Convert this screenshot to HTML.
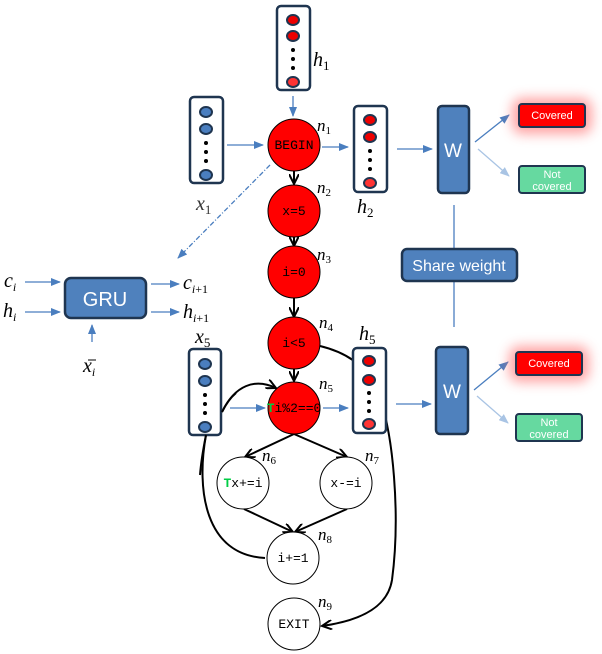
<!DOCTYPE html>
<html><head><meta charset="utf-8"><style>
html,body{margin:0;padding:0;background:#fff;}
svg{display:block}
.m{font-family:"Liberation Mono",monospace;font-size:13px;}
.i{font-family:"Liberation Serif",serif;font-style:italic;}
.s{font-family:"Liberation Sans",sans-serif;fill:#fff;}
</style></head><body>
<svg width="602" height="654" viewBox="0 0 602 654" xmlns="http://www.w3.org/2000/svg">
<defs>
<marker id="ab" markerWidth="10" markerHeight="8" refX="9" refY="4" orient="auto" markerUnits="userSpaceOnUse"><path d="M0,0 L10,4 L0,8 Z" fill="#4a7ebf"/></marker>
<marker id="al" markerWidth="10" markerHeight="8" refX="9" refY="4" orient="auto" markerUnits="userSpaceOnUse"><path d="M0,0 L10,4 L0,8 Z" fill="#a9c4e4"/></marker>
<marker id="ak" markerWidth="12" markerHeight="10" refX="10" refY="5" orient="auto" markerUnits="userSpaceOnUse"><path d="M0,0 L10,5 L0,10" fill="none" stroke="#000" stroke-width="2"/></marker>
<filter id="glow" x="-50%" y="-100%" width="200%" height="300%"><feGaussianBlur stdDeviation="6"/></filter>
</defs>

<!-- curves -->
<g fill="none" stroke="#000" stroke-width="2">
<path d="M320,346 C345,352 365,365 375,385 C395,430 400,520 392,580 C388,605 365,620 322,626" marker-end="url(#ak)"/>
<path d="M222,412 C235,385 255,378 276,388" marker-end="url(#ak)"/>
<path d="M206,435 C196,490 205,555 265,558"/>
<line x1="294" y1="171" x2="294" y2="184" marker-end="url(#ak)"/>
<line x1="294" y1="237" x2="294" y2="246" marker-end="url(#ak)"/>
<line x1="294" y1="298" x2="294" y2="317" marker-end="url(#ak)"/>
<line x1="294" y1="369" x2="294" y2="381" marker-end="url(#ak)"/>
<line x1="294" y1="434" x2="245" y2="457" marker-end="url(#ak)"/>
<line x1="294" y1="434" x2="347" y2="457" marker-end="url(#ak)"/>
<line x1="244" y1="509" x2="293" y2="532" marker-end="url(#ak)"/>
<line x1="347" y1="509" x2="295" y2="532" marker-end="url(#ak)"/>
</g>

<!-- vector boxes -->
<g stroke="#1f3550" stroke-width="2.5">
<rect x="277" y="6" width="33" height="84" rx="4" fill="#fff"/>
<rect x="190" y="97" width="33" height="86" rx="4" fill="#fff"/>
<rect x="354" y="106" width="33" height="86" rx="4" fill="#fff"/>
<rect x="189" y="349" width="32" height="86" rx="4" fill="#fff"/>
<rect x="353" y="348" width="33" height="85" rx="4" fill="#fff"/>
</g>
<g stroke="#1f3550" stroke-width="2">
<ellipse cx="293" cy="20" rx="6" ry="5" fill="#e00"/><ellipse cx="293" cy="36" rx="6" ry="5" fill="#e00"/><ellipse cx="293" cy="82" rx="6" ry="5" fill="#f33"/>
<ellipse cx="206" cy="112" rx="6" ry="5" fill="#4a7ebf"/><ellipse cx="206" cy="129" rx="6" ry="5" fill="#4a7ebf"/><ellipse cx="206" cy="175" rx="6" ry="5" fill="#4a7ebf"/>
<ellipse cx="370" cy="120" rx="6" ry="5" fill="#e00"/><ellipse cx="370" cy="137" rx="6" ry="5" fill="#e00"/><ellipse cx="370" cy="183" rx="6" ry="5" fill="#f33"/>
<ellipse cx="205" cy="364" rx="6" ry="5" fill="#4a7ebf"/><ellipse cx="205" cy="381" rx="6" ry="5" fill="#4a7ebf"/><ellipse cx="205" cy="427" rx="6" ry="5" fill="#4a7ebf"/>
<ellipse cx="369" cy="361" rx="6" ry="5" fill="#e00"/><ellipse cx="369" cy="380" rx="6" ry="5" fill="#e00"/><ellipse cx="369" cy="424" rx="6" ry="5" fill="#f33"/>
</g>
<g fill="#000">
<circle cx="293" cy="50" r="2"/><circle cx="293" cy="59" r="2"/><circle cx="293" cy="68" r="2"/>
<circle cx="206" cy="143" r="2"/><circle cx="206" cy="152" r="2"/><circle cx="206" cy="161" r="2"/>
<circle cx="370" cy="151" r="2"/><circle cx="370" cy="160" r="2"/><circle cx="370" cy="169" r="2"/>
<circle cx="205" cy="395" r="2"/><circle cx="205" cy="404" r="2"/><circle cx="205" cy="413" r="2"/>
<circle cx="369" cy="393" r="2"/><circle cx="369" cy="402" r="2"/><circle cx="369" cy="411" r="2"/>
</g>
<path d="M206,435 C203,450 201,462 200,475" fill="none" stroke="#000" stroke-width="2"/>
<path d="M222,412 C226,404 230,398 236,393" fill="none" stroke="#000" stroke-width="2"/>

<!-- blue arrows -->
<g stroke="#4a7ebf" stroke-width="1.3" fill="none">
<line x1="293" y1="96" x2="293" y2="116" marker-end="url(#ab)"/>
<line x1="227" y1="145" x2="263" y2="145" marker-end="url(#ab)"/>
<line x1="322" y1="147" x2="348" y2="147" marker-end="url(#ab)"/>
<line x1="397" y1="149" x2="432" y2="149" marker-end="url(#ab)"/>
<line x1="230" y1="408" x2="265" y2="408" marker-end="url(#ab)"/>
<line x1="323" y1="408" x2="348" y2="408" marker-end="url(#ab)"/>
<line x1="396" y1="404" x2="431" y2="404" marker-end="url(#ab)"/>
<line x1="270" y1="165" x2="178" y2="258" stroke-dasharray="5,2,1,2" marker-end="url(#ab)"/>
<line x1="475" y1="142" x2="509" y2="115" marker-end="url(#ab)"/>
<line x1="474" y1="390" x2="508" y2="362" marker-end="url(#ab)"/>
<line x1="454" y1="205" x2="454" y2="249"/>
<line x1="454" y1="281" x2="454" y2="327"/>
<line x1="25" y1="282" x2="60" y2="282" marker-end="url(#ab)"/>
<line x1="25" y1="312" x2="60" y2="312" marker-end="url(#ab)"/>
<line x1="151" y1="284" x2="179" y2="284" marker-end="url(#ab)"/>
<line x1="151" y1="312" x2="179" y2="312" marker-end="url(#ab)"/>
<line x1="92" y1="342" x2="92" y2="325" marker-end="url(#ab)"/>
</g>
<g stroke="#a9c4e4" stroke-width="1.3">
<line x1="478" y1="149" x2="509" y2="176" marker-end="url(#al)"/>
<line x1="477" y1="396" x2="508" y2="423" marker-end="url(#al)"/>
</g>

<!-- nodes -->
<g stroke="#000" stroke-width="1">
<circle cx="294" cy="145" r="26" fill="#f00"/>
<circle cx="294" cy="211" r="26" fill="#f00"/>
<circle cx="294" cy="272" r="26" fill="#f00"/>
<circle cx="294" cy="343" r="26" fill="#f00"/>
<circle cx="294" cy="408" r="26" fill="#f00"/>
<circle cx="243" cy="483" r="26" fill="#fff"/>
<circle cx="346" cy="483" r="26" fill="#fff"/>
<circle cx="293" cy="558" r="26" fill="#fff"/>
<circle cx="294" cy="624" r="26" fill="#fff"/>
</g>
<g class="m" text-anchor="middle">
<text x="294" y="149">BEGIN</text>
<text x="294" y="215">x=5</text>
<text x="294" y="276">i=0</text>
<text x="294" y="347">i&lt;5</text>
<text x="294" y="412"><tspan fill="#0c4" font-weight="bold">T</tspan>i%2==0</text>
<text x="243" y="487"><tspan fill="#0c4" font-weight="bold">T</tspan>x+=i</text>
<text x="346" y="487">x-=i</text>
<text x="293" y="562">i+=1</text>
<text x="294" y="628">EXIT</text>
</g>

<!-- node labels -->
<g class="i" font-size="17">
<text x="317" y="131">n<tspan font-size="11" dy="3" font-style="normal">1</tspan></text>
<text x="317" y="193">n<tspan font-size="11" dy="3" font-style="normal">2</tspan></text>
<text x="317" y="260">n<tspan font-size="11" dy="3" font-style="normal">3</tspan></text>
<text x="319" y="328">n<tspan font-size="11" dy="3" font-style="normal">4</tspan></text>
<text x="319" y="389">n<tspan font-size="11" dy="3" font-style="normal">5</tspan></text>
<text x="262" y="461">n<tspan font-size="11" dy="3" font-style="normal">6</tspan></text>
<text x="365" y="461">n<tspan font-size="11" dy="3" font-style="normal">7</tspan></text>
<text x="318" y="540">n<tspan font-size="11" dy="3" font-style="normal">8</tspan></text>
<text x="318" y="607">n<tspan font-size="11" dy="3" font-style="normal">9</tspan></text>
</g>
<g class="i" font-size="20">
<text x="313" y="66">h<tspan font-size="13" dy="4" font-style="normal">1</tspan></text>
<text x="196" y="210" fill="#333">x<tspan font-size="13" dy="4" font-style="normal">1</tspan></text>
<text x="357" y="213">h<tspan font-size="13" dy="4" font-style="normal">2</tspan></text>
<text x="195" y="343">x<tspan font-size="13" dy="4" font-style="normal">5</tspan></text>
<text x="359" y="340">h<tspan font-size="13" dy="4" font-style="normal">5</tspan></text>
<text x="4" y="287">c<tspan font-size="12" dy="4">i</tspan></text>
<text x="3" y="317">h<tspan font-size="12" dy="4">i</tspan></text>
<text x="183" y="289">c<tspan font-size="12" dy="4">i<tspan font-style="normal">+1</tspan></tspan></text>
<text x="183" y="318">h<tspan font-size="12" dy="4">i<tspan font-style="normal">+1</tspan></tspan></text>
<text x="83" y="372">x<tspan font-size="12" dy="4">i</tspan></text>
</g>
<line x1="88" y1="360" x2="96" y2="360" stroke="#000" stroke-width="1"/>

<!-- blue boxes -->
<g fill="#4f81bd" stroke="#1f3550" stroke-width="2.5">
<rect x="65" y="278" width="81" height="40" rx="6"/>
<rect x="438" y="106" width="31" height="87" rx="4"/>
<rect x="436" y="347" width="32" height="87" rx="4"/>
<rect x="402" y="249" width="115" height="32" rx="5"/>
</g>
<g class="s" text-anchor="middle">
<text x="105" y="306" font-size="20">GRU</text>
<text x="453" y="157" font-size="19">W</text>
<text x="452" y="398" font-size="19">W</text>
<text x="459" y="271" font-size="16">Share weight</text>
</g>

<!-- outputs -->
<rect x="512" y="98" width="80" height="36" rx="10" fill="#f66" opacity="0.6" filter="url(#glow)"/>
<rect x="509" y="346" width="80" height="36" rx="10" fill="#f66" opacity="0.6" filter="url(#glow)"/>
<g stroke="#1f3550" stroke-width="2">
<rect x="519" y="104" width="66" height="23" rx="3" fill="#f00"/>
<rect x="519" y="166" width="66" height="27" rx="3" fill="#66d9a0"/>
<rect x="516" y="352" width="66" height="23" rx="3" fill="#f00"/>
<rect x="516" y="414" width="66" height="27" rx="3" fill="#66d9a0"/>
</g>
<g class="s" text-anchor="middle" font-size="11">
<text x="552" y="119">Covered</text>
<text x="552" y="178">Not</text><text x="552" y="190">covered</text>
<text x="549" y="367">Covered</text>
<text x="549" y="426">Not</text><text x="549" y="438">covered</text>
</g>
</svg>
</body></html>
